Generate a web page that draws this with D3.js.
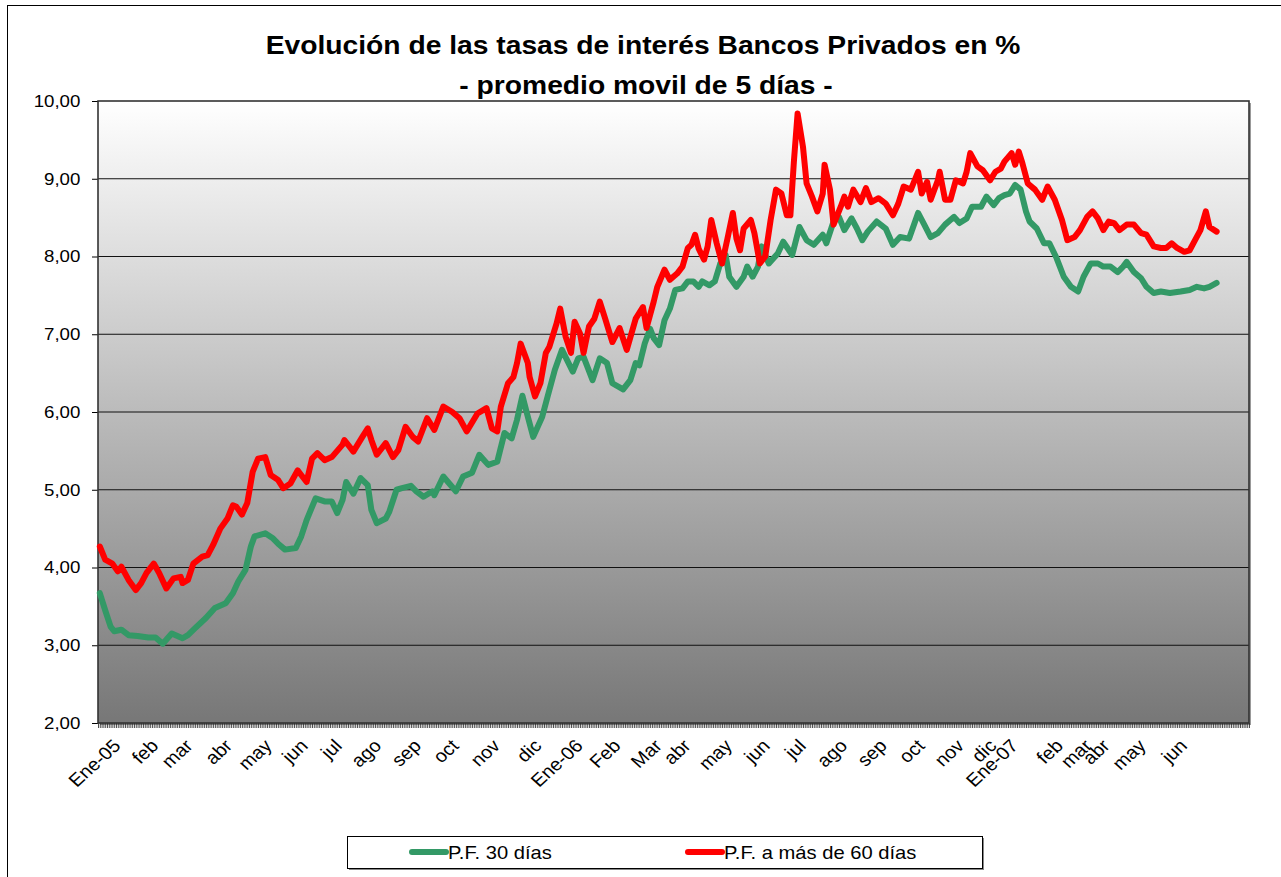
<!DOCTYPE html>
<html>
<head>
<meta charset="utf-8">
<script src="https://cdn.jsdelivr.net/npm/d3@7"></script>
<style>
  body { margin: 0; background: #fff; }
  text { font-family: "Liberation Sans", Arial, sans-serif; }
</style>
</head>
<body>
<div id="chart"></div>
<script>
// trading-day index on the x axis, values in %
const greenDays = [1,4,7,9,13,17,22,28,32,36,41,47,50,54,60,65,71,75,78,82,85,87,93,97,100,104,110,113,116,121,126,130,133,136,138,142,146,150,152,155,160,162,166,169,174,177,181,186,187,192,199,203,208,212,217,222,226,230,233,236,239,242,247,250,254,258,264,267,270,275,279,283,286,292,296,299,301,304,307,309,312,315,318,321,325,328,331,334,336,340,343,346,349,351,355,359,361,364,367,369,373,378,381,386,390,394,398,403,405,409,412,415,419,422,425,428,433,438,442,446,451,456,459,463,467,471,476,479,483,486,491,494,498,501,504,507,510,513,516,518,522,526,529,533,537,541,545,548,552,556,559,563,567,570,572,576,580,583,587,591,596,602,607,611,615,618,622];
const greenVals = [3.67,3.45,3.24,3.18,3.20,3.13,3.12,3.10,3.10,3.02,3.15,3.09,3.13,3.22,3.35,3.48,3.54,3.67,3.82,3.97,4.27,4.40,4.44,4.38,4.31,4.23,4.25,4.40,4.61,4.89,4.85,4.85,4.70,4.87,5.10,4.95,5.15,5.06,4.74,4.57,4.63,4.72,5.00,5.02,5.05,4.98,4.91,4.98,4.93,5.17,4.98,5.17,5.22,5.45,5.32,5.36,5.73,5.66,5.90,6.21,5.94,5.68,5.94,6.20,6.54,6.80,6.52,6.69,6.71,6.41,6.69,6.63,6.37,6.29,6.41,6.63,6.60,6.88,7.07,6.95,6.86,7.18,7.33,7.57,7.59,7.68,7.68,7.61,7.68,7.63,7.68,7.91,8.02,7.74,7.61,7.74,7.87,7.74,7.87,8.13,7.91,8.04,8.19,8.02,8.38,8.21,8.15,8.28,8.17,8.45,8.51,8.34,8.49,8.36,8.21,8.32,8.45,8.36,8.15,8.25,8.23,8.56,8.43,8.25,8.30,8.41,8.51,8.43,8.49,8.64,8.64,8.77,8.66,8.75,8.79,8.81,8.92,8.86,8.58,8.45,8.36,8.17,8.17,7.98,7.74,7.61,7.55,7.74,7.91,7.91,7.87,7.87,7.80,7.87,7.93,7.80,7.72,7.61,7.53,7.55,7.53,7.55,7.57,7.61,7.59,7.61,7.66];

const redDays = [1,4,8,11,13,17,21,24,27,31,34,38,42,46,47,50,53,58,61,64,68,72,75,77,80,83,86,89,93,96,100,103,107,111,113,116,119,122,126,130,136,137,142,147,150,152,155,160,162,164,167,171,175,178,183,187,192,197,201,205,211,216,219,222,224,228,231,233,235,239,240,243,246,249,251,255,257,260,263,265,268,270,273,276,279,282,286,290,294,299,303,305,309,311,315,318,322,325,328,330,332,334,337,339,341,344,347,350,353,355,357,359,363,365,368,371,374,377,380,383,385,387,389,392,394,397,400,403,404,407,409,413,415,417,420,424,427,430,434,438,442,445,448,452,456,458,461,463,467,468,471,474,477,481,483,485,489,492,496,499,502,504,508,510,512,514,517,521,525,528,532,536,539,543,546,550,553,556,559,562,565,568,572,576,580,583,587,591,594,597,600,604,607,610,613,616,618,622];
const redVals = [4.27,4.10,4.05,3.95,4.01,3.84,3.71,3.80,3.93,4.05,3.93,3.73,3.86,3.88,3.80,3.84,4.05,4.14,4.16,4.29,4.50,4.63,4.80,4.78,4.68,4.83,5.23,5.40,5.42,5.19,5.13,5.02,5.08,5.25,5.19,5.10,5.40,5.47,5.38,5.42,5.58,5.64,5.49,5.68,5.79,5.64,5.45,5.60,5.51,5.42,5.51,5.81,5.68,5.62,5.92,5.77,6.07,6.00,5.92,5.75,5.98,6.05,5.79,5.75,6.07,6.37,6.45,6.63,6.88,6.63,6.45,6.20,6.37,6.76,6.84,7.14,7.33,6.97,6.76,7.16,7.01,6.76,7.10,7.20,7.42,7.20,6.90,7.08,6.80,7.20,7.35,7.08,7.42,7.61,7.83,7.70,7.78,7.87,8.11,8.15,8.28,8.10,7.96,8.13,8.47,8.17,7.91,8.23,8.56,8.23,8.08,8.36,8.47,8.30,7.91,8.00,8.47,8.86,8.81,8.53,8.53,9.24,9.84,9.41,8.94,8.77,8.58,8.81,9.18,8.86,8.41,8.64,8.77,8.64,8.86,8.70,8.88,8.70,8.75,8.68,8.53,8.68,8.90,8.86,9.09,8.81,8.96,8.73,8.98,9.09,8.73,8.73,8.98,8.94,9.09,9.33,9.16,9.11,8.98,9.09,9.13,9.22,9.33,9.18,9.35,9.20,8.94,8.86,8.73,8.90,8.73,8.47,8.21,8.25,8.34,8.51,8.58,8.49,8.34,8.45,8.43,8.34,8.41,8.41,8.30,8.28,8.13,8.11,8.11,8.17,8.11,8.06,8.08,8.21,8.34,8.58,8.38,8.32];

const monthLabels = ["Ene-05","feb","mar","abr","may","jun","jul","ago","sep","oct","nov","dic","Ene-06","Feb","Mar","abr","may","jun","jul","ago","sep","oct","nov","dic","Ene-07","feb","mar","abr","may","jun"];
const monthDays = [13,34,53,75,97,117,136,158,180,201,224,247,270,291,314,330,353,374,394,417,439,460,482,500,512,537,553,563,583,606];

const yTicks = [2,3,4,5,6,7,8,9,10];
const seriesNames = ["P.F. 30 días", "P.F. a más de 60 días"];
const seriesColors = ["#339966", "#ff0000"];
const dayCount = 640;

(function () {
  const W = 1281, H = 877;
  const pLeft = 98, pRight = 1249, pTop = 101, pBottom = 723;
  const sx = 1.1; // the picture is a little stretched sideways

  const svg = d3.select("#chart").append("svg").attr("width", W).attr("height", H);

  svg.append("rect").attr("x", 7.5).attr("y", 5.5).attr("width", 1300).attr("height", 900)
    .attr("fill", "#fff").attr("stroke", "#000");

  const x = d3.scaleLinear().domain([0, dayCount]).range([pLeft, pRight]);
  const y = d3.scaleLinear().domain([2, 10]).range([pBottom, pTop]);
  const fmt = d3.formatLocale({ decimal: ",", thousands: ".", grouping: [3], currency: ["", ""] }).format(".2f");

  // plot background
  const grad = svg.append("defs").append("linearGradient").attr("id", "bg")
    .attr("x1", 0).attr("y1", 0).attr("x2", 0).attr("y2", 1);
  grad.append("stop").attr("offset", "0%").attr("stop-color", "#ffffff");
  grad.append("stop").attr("offset", "100%").attr("stop-color", "#777777");

  svg.append("rect").attr("x", pLeft + 2).attr("y", pTop + 2).attr("width", pRight - pLeft).attr("height", pBottom - pTop)
    .attr("fill", "#999");
  svg.append("rect").attr("x", pLeft).attr("y", pTop).attr("width", pRight - pLeft).attr("height", pBottom - pTop)
    .attr("fill", "url(#bg)");

  // gridlines
  svg.append("g").selectAll("line").data(yTicks.slice(1, -1)).join("line")
    .attr("x1", pLeft).attr("x2", pRight)
    .attr("y1", d => y(d)).attr("y2", d => y(d))
    .attr("stroke", "#111").attr("stroke-width", 1.2);

  // y axis
  const yAxis = svg.append("g").attr("transform", `translate(${pLeft},0)`)
    .call(d3.axisLeft(y).tickValues(yTicks).tickFormat(fmt).tickSize(6).tickPadding(10));
  yAxis.select(".domain").remove();
  yAxis.selectAll("line").attr("stroke", "#000");
  yAxis.selectAll("text").attr("font-size", 17).attr("fill", "#000")
    .attr("transform", `scale(${sx},1)`);

  // x axis: a tick for every day
  const xAxis = svg.append("g").attr("transform", `translate(0,${pBottom})`)
    .call(d3.axisBottom(x).tickValues(d3.range(0, dayCount + 1)).tickFormat("").tickSize(5));
  xAxis.select(".domain").remove();
  xAxis.selectAll("line").attr("stroke", "#222").attr("stroke-width", 0.8);

  // month labels
  const xLab = svg.append("g").attr("transform", `translate(0,${pBottom})`)
    .call(d3.axisBottom(x).tickValues(monthDays).tickFormat((d, i) => monthLabels[i]).tickSize(0));
  xLab.select(".domain").remove();
  xLab.selectAll("text").attr("font-size", 18).attr("fill", "#000")
    .attr("text-anchor", "end").attr("y", 0).attr("dy", 0)
    .attr("transform", `translate(0,24) scale(${sx},1) rotate(-45)`);

  // plot border
  svg.append("rect").attr("x", pLeft).attr("y", pTop).attr("width", pRight - pLeft).attr("height", pBottom - pTop)
    .attr("fill", "none").attr("stroke", "#333").attr("stroke-width", 1.6);

  // series
  const line = d3.line().x(d => x(d[0])).y(d => y(d[1]));
  const series = [d3.zip(greenDays, greenVals), d3.zip(redDays, redVals)];
  series.forEach((s, i) => {
    svg.append("path").datum(s).attr("d", line)
      .attr("fill", "none").attr("stroke", seriesColors[i]).attr("stroke-width", 6)
      .attr("stroke-linejoin", "round").attr("stroke-linecap", "round");
  });

  // title
  const title = svg.append("g").attr("font-weight", "bold").attr("font-size", 25).attr("text-anchor", "middle");
  title.append("text").attr("transform", `translate(643,54) scale(1.13,1)`)
    .text("Evolución de las tasas de interés Bancos Privados en %");
  title.append("text").attr("transform", `translate(646,94) scale(1.13,1)`)
    .text("- promedio movil de 5 días -");

  // legend
  svg.append("rect").attr("x", 349).attr("y", 838).attr("width", 635).attr("height", 32).attr("fill", "#888");
  svg.append("rect").attr("x", 347.5).attr("y", 836.5).attr("width", 635).attr("height", 32)
    .attr("fill", "#fff").attr("stroke", "#000");
  const legX = [412, 688];
  seriesNames.forEach((name, i) => {
    svg.append("line").attr("x1", legX[i]).attr("x2", legX[i] + 34).attr("y1", 852).attr("y2", 852)
      .attr("stroke", seriesColors[i]).attr("stroke-width", 6).attr("stroke-linecap", "round");
    svg.append("text").attr("transform", `translate(${legX[i] + 36},859) scale(1.12,1)`)
      .attr("font-size", 18).text(name);
  });
})();
</script>
</body>
</html>
